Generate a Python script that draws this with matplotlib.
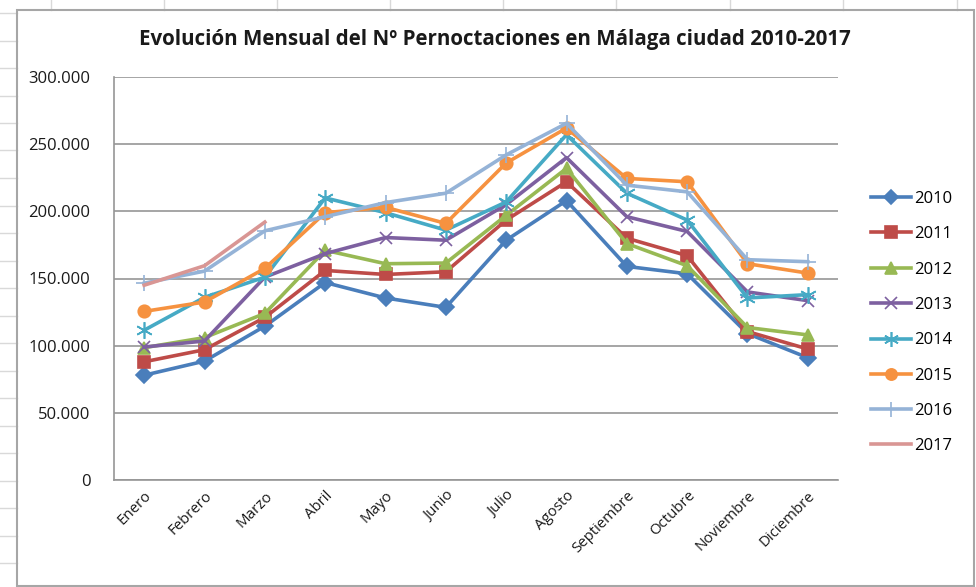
import numpy as np
import matplotlib
matplotlib.use('Agg')
import matplotlib.pyplot as plt
from matplotlib.lines import Line2D
from matplotlib.patches import Rectangle
from matplotlib.ticker import FuncFormatter

# Datos (pernoctaciones por mes)
meses = ['Enero', 'Febrero', 'Marzo', 'Abril', 'Mayo', 'Junio', 'Julio',
         'Agosto', 'Septiembre', 'Octubre', 'Noviembre', 'Diciembre']
v2010 = [78000, 88500, 114500, 147000, 135500, 128500, 178500, 208000, 159000, 153500, 109000, 91000]
v2011 = [88000, 97000, 121000, 156000, 153000, 155000, 193500, 222000, 180000, 167000, 110500, 97500]
v2012 = [98500, 106000, 124000, 171000, 161000, 161500, 197000, 232000, 176000, 159500, 113500, 108000]
v2013 = [99000, 103500, 151000, 168500, 180500, 178500, 205000, 240000, 196000, 185000, 140000, 133500]
v2014 = [111500, 136000, 151000, 210000, 199000, 186000, 207000, 257000, 213500, 193500, 135500, 138000]
v2015 = [125500, 132500, 157500, 199000, 203000, 191000, 236000, 262000, 224500, 222000, 161000, 154000]
v2016 = [146500, 155500, 185500, 196000, 206500, 213500, 242000, 265500, 219500, 214500, 164000, 162500]
v2017 = [145000, 159500, 192000]

series = [
    ('2010', v2010, '#4A7EBB', 'D', 8),
    ('2011', v2011, '#BE4B48', 's', 9),
    ('2012', v2012, '#98B954', '^', 9),
    ('2013', v2013, '#7D60A0', 'x', 9),
    ('2014', v2014, '#46AAC5', (6, 2, 0), 12),
    ('2015', v2015, '#F69240', 'o', 9),
    ('2016', v2016, '#95B3D7', '+', 12),
    ('2017', v2017, '#D99694', None, 0),
]

plt.rcParams['font.family'] = ['Open Sans', 'DejaVu Sans']

fig = plt.figure(figsize=(9.76, 5.87), dpi=100)
fig.patch.set_facecolor('white')

# Cuadricula de la hoja de calculo detras del grafico
for x in [51, 164, 277, 390, 503, 616, 730, 843, 957]:
    fig.add_artist(Line2D([x / 976, x / 976], [1 - 0 / 587, 1 - 10 / 587], transform=fig.transFigure,
                          color='#d9d9d9', lw=1, zorder=-2))
for y in np.arange(13, 587, 27.5):
    fig.add_artist(Line2D([0, 17 / 976], [1 - y / 587, 1 - y / 587], transform=fig.transFigure,
                          color='#d9d9d9', lw=1, zorder=-2))

# Marco del area del grafico
fig.add_artist(Rectangle((17 / 976, 1 - 586 / 587), (974 - 17) / 976, (586 - 10) / 587,
                         transform=fig.transFigure, facecolor='none', edgecolor='#a6a6a6',
                         lw=1.5, zorder=-1))

ax = fig.add_axes([114 / 976, 1 - 480 / 587, (838 - 114) / 976, (480 - 77) / 587])
ax.patch.set_alpha(0)
x = np.arange(len(meses))

for name, vals, color, marker, ms in series:
    kw = {}
    if marker is not None:
        kw = dict(marker=marker, markersize=ms, markerfacecolor=color,
                  markeredgecolor=color, markeredgewidth=1.2)
    ax.plot(x[:len(vals)], vals, color=color, lw=2.6, label=name, **kw)

ax.set_xlim(-0.5, 11.5)
ax.set_ylim(0, 300000)
ax.set_yticks(np.arange(0, 300001, 50000))
ax.yaxis.set_major_formatter(FuncFormatter(lambda v, p: '0' if v == 0 else f'{int(v):,}'.replace(',', '.')))
ax.grid(axis='y', color='#969696', lw=1.2)
ax.set_axisbelow(True)
for s in ['top', 'right']:
    ax.spines[s].set_visible(False)
for s in ['left', 'bottom']:
    ax.spines[s].set_color('#969696')
    ax.spines[s].set_linewidth(1.2)
ax.tick_params(axis='y', length=0, pad=17, labelsize=12, labelcolor='#1a1a1a')
ax.tick_params(axis='x', length=0, pad=6, labelsize=10.8, labelcolor='#1a1a1a')
ax.set_xticks(x)
ax.set_xticklabels(meses, rotation=45, ha='right', rotation_mode='anchor')

fig.text(495 / 976, 1 - 40 / 587, 'Evolución Mensual del Nº Pernoctaciones en Málaga ciudad 2010-2017',
         ha='center', va='center', fontsize=14.8, fontweight='bold', color='#1a1a1a')

leg = ax.legend(loc='upper left', bbox_to_anchor=(856 / 976, 1 - 176 / 587),
                bbox_transform=fig.transFigure, frameon=False, fontsize=12,
                handlelength=2.4, handletextpad=0.2, labelspacing=1.16, markerscale=0.9)

fig.savefig('out.png', dpi=100)
